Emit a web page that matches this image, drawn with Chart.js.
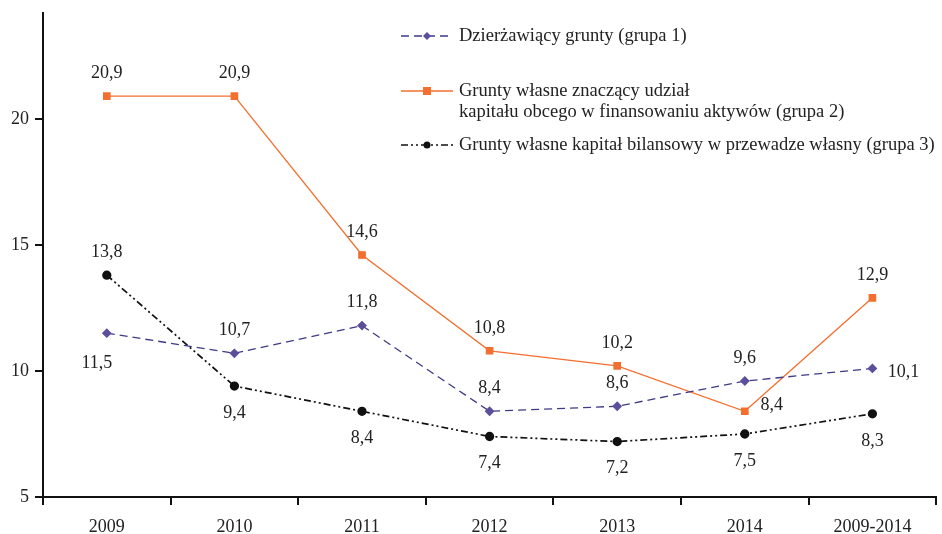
<!DOCTYPE html>
<html>
<head>
<meta charset="utf-8">
<script src="https://cdn.jsdelivr.net/npm/chart.js@4/dist/chart.umd.min.js"></script>
<style>
	html, body { margin: 0; padding: 0; background: #fff; }
	#wrap { width: 942px; height: 534px; }
</style>
</head>
<body>
<div id="wrap"><canvas id="chart" width="942" height="534"></canvas></div>
<script>
'use strict';

const years = ['2009', '2010', '2011', '2012', '2013', '2014', '2009-2014'];
const group1 = [11.5, 10.7, 11.8, 8.4, 8.6, 9.6, 10.1];
const group2 = [20.9, 20.9, 14.6, 10.8, 10.2, 8.4, 12.9];
const group3 = [13.8, 9.4, 8.4, 7.4, 7.2, 7.5, 8.3];
const yTicks = [5, 10, 15, 20];

const seriesNames = [
	['Dzierżawiący grunty (grupa 1)'],
	['Grunty własne znaczący udział', 'kapitału obcego w finansowaniu aktywów (grupa 2)'],
	['Grunty własne kapitał bilansowy w przewadze własny (grupa 3)']
];
// where each value label sits relative to its point
const labelPos = [
	['belowLeft', 'above', 'above', 'above', 'above', 'above', 'right'],
	['above', 'above', 'above', 'above', 'above', 'upRight', 'above'],
	['above', 'below', 'below', 'below', 'below', 'below', 'below']
];

const FONT = '"Liberation Serif", "DejaVu Serif", serif';

const valueLabels = {
	id: 'valueLabels',
	afterDatasetsDraw(chart) {
		const ctx = chart.ctx;
		ctx.save();
		ctx.font = '18px ' + FONT;
		ctx.fillStyle = '#222';
		ctx.textAlign = 'center';
		ctx.textBaseline = 'middle';
		chart.data.datasets.forEach((ds, i) => {
			chart.getDatasetMeta(i).data.forEach((pt, j) => {
				const txt = String(ds.data[j]).replace('.', ',');
				let x = pt.x, y = pt.y;
				switch (labelPos[i][j]) {
					case 'above': y -= 23; break;
					case 'below': y += 27; break;
					case 'belowLeft': x -= 10; y += 30; break;
					case 'right': x += 31; y += 4; break;
					case 'upRight': x += 27; y -= 6; break;
				}
				ctx.fillText(txt, x, y);
			});
		});
		ctx.restore();
	}
};

const customLegend = {
	id: 'customLegend',
	afterDraw(chart) {
		const ctx = chart.ctx;
		const rows = [36, 91, 145];
		ctx.save();
		ctx.font = '18.5px ' + FONT;
		ctx.textBaseline = 'middle';
		chart.data.datasets.forEach((ds, i) => {
			const y = rows[i];
			ctx.strokeStyle = ds.borderColor;
			ctx.lineWidth = ds.borderWidth;
			ctx.setLineDash(ds.borderDash || []);
			ctx.beginPath();
			ctx.moveTo(401, y);
			ctx.lineTo(453, y);
			ctx.stroke();
			ctx.setLineDash([]);
			ctx.fillStyle = ds.pointBackgroundColor;
			ctx.beginPath();
			if (ds.pointStyle === 'rectRot') {
				ctx.moveTo(427, y - 4); ctx.lineTo(431, y); ctx.lineTo(427, y + 4); ctx.lineTo(423, y);
			} else if (ds.pointStyle === 'rect') {
				ctx.rect(423, y - 4, 8, 8);
			} else {
				ctx.arc(427, y, 3.5, 0, Math.PI * 2);
			}
			ctx.fill();
			ctx.fillStyle = '#222';
			seriesNames[i].forEach((line, k) => ctx.fillText(line, 459, y + k * 21));
		});
		ctx.restore();
	}
};

let config = {
	type: 'line',
	data: {
		labels: years,
		datasets: [
			{
				data: group1,
				borderColor: '#3d3a86',
				borderWidth: 1.3,
				borderDash: [8, 5],
				pointStyle: 'rectRot',
				pointRadius: 4,
				pointBackgroundColor: '#5b4f9c',
				pointBorderColor: '#5b4f9c',
				tension: 0
			},
			{
				data: group2,
				borderColor: '#f36f2f',
				borderWidth: 1.3,
				pointStyle: 'rect',
				pointRadius: 4.5,
				pointBackgroundColor: '#f36f2f',
				pointBorderColor: '#f36f2f',
				tension: 0
			},
			{
				data: group3,
				borderColor: '#111',
				borderWidth: 1.7,
				borderDash: [7, 3, 2, 3, 2, 3],
				pointStyle: 'circle',
				pointRadius: 3.8,
				pointBackgroundColor: '#111',
				pointBorderColor: '#111',
				tension: 0
			}
		]
	},
	options: {
		responsive: false,
		animation: false,
		layout: { padding: { top: 13, right: 5, left: 0, bottom: 0 } },
		plugins: {
			legend: { display: false },
			tooltip: { enabled: false }
		},
		scales: {
			x: {
				offset: true,
				grid: { offset: true, drawOnChartArea: false, color: '#111', lineWidth: 2, tickLength: 8 },
				border: { color: '#111', width: 2 },
				ticks: { color: '#222', font: { family: FONT, size: 18 }, padding: 11, maxRotation: 0 },
				afterFit: (s) => { s.height = 37; s.paddingLeft = 0; s.paddingRight = 0; }
			},
			y: {
				min: 5,
				max: 24.2,
				afterBuildTicks: (s) => { s.ticks = yTicks.map(v => ({ value: v })); },
				grid: { drawOnChartArea: false, color: '#111', lineWidth: 2, tickLength: 8 },
				border: { color: '#111', width: 2 },
				ticks: { color: '#222', font: { family: FONT, size: 18 }, padding: 6 },
				afterFit: (s) => { s.width = 43; s.paddingTop = 0; s.paddingBottom = 0; }
			}
		}
	},
	plugins: [valueLabels, customLegend]
};

window.addEventListener('load', function() {
	let ctx = document.getElementById('chart').getContext('2d');
	const chart = new Chart(ctx, config);
}, false);
</script>
</body>
</html>
